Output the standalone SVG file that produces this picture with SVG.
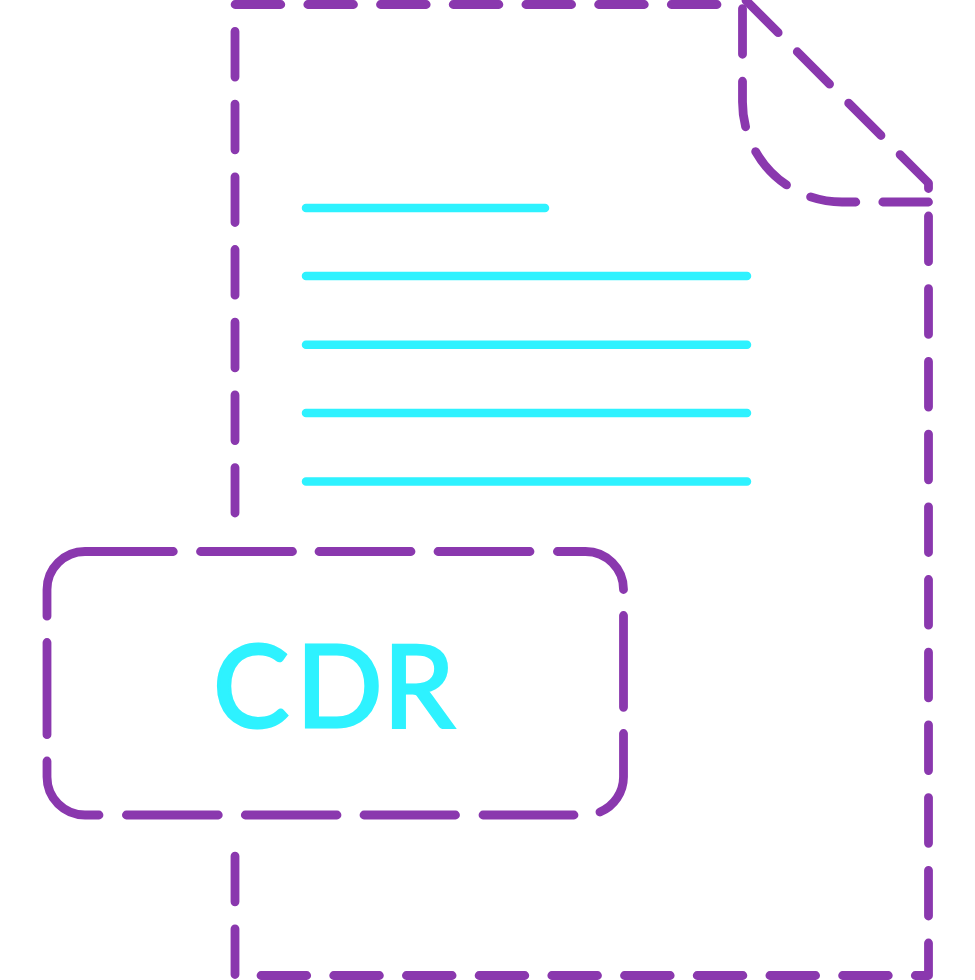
<svg xmlns="http://www.w3.org/2000/svg" width="975" height="980" viewBox="0 0 975 980">
<style>
.p{fill:none;stroke:#8a38ae;stroke-width:8.800;stroke-linecap:round;stroke-linejoin:round}
.d{stroke-dasharray:45.7 27}
.c{fill:none;stroke:#2ef2ff;stroke-width:8.500;stroke-linecap:round}
.t{fill:#2ef2ff;font-family:"Lato","Liberation Sans",sans-serif;font-size:114px;stroke:#2ef2ff;stroke-width:3}
</style>
<rect width="975" height="980" fill="#fff"/>
<g id="document">
<path class="p d" d="M717 4.500H235V513"/>
<path class="p d" d="M928.500 216V975.500H235V855"/>
<path class="p d" d="M928.500 188.500V183L746 .5"/>
<path class="p d" d="M928.500 202H842C787 202 742.500 157 742.500 102V8"/>
</g>
<g id="text-lines">
<path class="c" d="M306 208H545M306 276H747M306 344.700H747M306 413H747M306 481.500H747"/>
</g>
<g id="label">
<path class="p" d="M47 616.200V589.500A38 38 0 0 1 85 551.500H173.300M200.500 551.500H292.500M319 551.500H411M438 551.500H530M557.400 551.500H585.500A38 38 0 0 1 623.500 589.500M623.500 615.500V707.300M623.500 733.500V777A38 38 0 0 1 600 812M574 815H483M455.500 815H364M337 815H245.300M218.300 815H126.400M99 815H85A38 38 0 0 1 47 777V761M47 734.700V642.500"/>
<text class="t" x="213 296 383" y="726.500">CDR</text>
</g>
</svg>
